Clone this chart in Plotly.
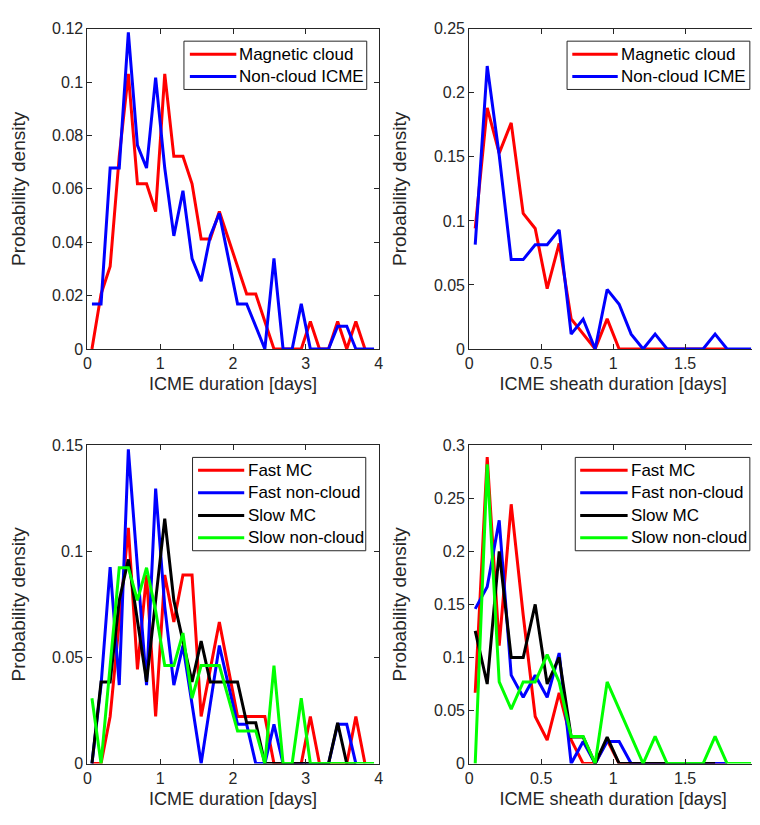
import plotly.graph_objects as go

# ---------------- data ----------------
# bin centres
dur_x = [(k + 0.5) / 8 for k in range(32)]      # 3-hour bins, days
sheath_x = [(k + 0.5) / 12 for k in range(24)]  # 2-hour bins, days

# panel 1: ICME duration
dur_mc = [0, 0.0206, 0.0309, 0.0722, 0.1031, 0.0619, 0.0619, 0.0515, 0.1031, 0.0722,
          0.0722, 0.0619, 0.0412, 0.0412, 0.0515, 0.0412, 0.0309, 0.0206, 0.0206, 0.0103,
          0, 0, 0, 0, 0.0103, 0, 0, 0.0103, 0, 0.0103, 0]
dur_ejecta = [0.0169, 0.0169, 0.0678, 0.0678, 0.1186, 0.0763, 0.0678, 0.1017, 0.0678, 0.0424,
              0.0593, 0.0339, 0.0254, 0.0424, 0.0508, 0.0339, 0.0169, 0.0169, 0.0085, 0,
              0.0339, 0, 0, 0.0169, 0, 0, 0, 0.0085, 0.0085, 0, 0, 0]

# panel 2: sheath duration
sh_mc = [0.0941, 0.1882, 0.1529, 0.1765, 0.1059, 0.0941, 0.0471, 0.0824, 0.0235, 0.0118,
         0, 0.0235, 0, 0, 0, 0, 0, 0, 0, 0, 0, 0]
sh_ejecta = [0.0814, 0.2209, 0.1512, 0.0698, 0.0698, 0.0814, 0.0814, 0.0930, 0.0116, 0.0233,
             0, 0.0465, 0.0349, 0.0116, 0, 0.0116, 0, 0, 0, 0, 0.0116, 0, 0, 0]

# panel 3: ICME duration, fast / slow
dur_fast_mc = [0, 0, 0.0222, 0.0667, 0.1111, 0.0444, 0.0889, 0.0222, 0.0889, 0.0667,
               0.0889, 0.0889, 0.0222, 0.0444, 0.0667, 0.0444, 0.0222, 0.0222, 0.0222, 0.0222,
               0, 0, 0, 0, 0.0222, 0, 0, 0, 0, 0.0222, 0]
dur_fast_ej = [0, 0.037, 0.0926, 0.037, 0.1481, 0.0926, 0.037, 0.1296, 0.0741, 0.037,
               0.0556, 0.028, 0, 0.028, 0.0556, 0.037, 0.0185, 0.0185, 0, 0,
               0.0185, 0, 0, 0, 0, 0, 0, 0.0185, 0.0185, 0]
dur_slow_mc = [0, 0.0385, 0.0385, 0.0769, 0.0962, 0.0673, 0.0385, 0.0769, 0.1154, 0.0769,
               0.0577, 0.0385, 0.0577, 0.0385, 0.0385, 0.0385, 0.0385, 0.0192, 0.0192, 0,
               0, 0, 0, 0, 0, 0, 0, 0.0192, 0, 0]
dur_slow_ej = [0.0308, 0, 0.0462, 0.0923, 0.0923, 0.0769, 0.0923, 0.072, 0.0462, 0.0462,
               0.0615, 0.0308, 0.0462, 0.0462, 0.0462, 0.0308, 0.0154, 0.0154, 0.0154, 0,
               0.0462, 0, 0, 0.0308, 0, 0, 0, 0, 0, 0, 0, 0]

# panel 4: sheath duration, fast / slow
sh_fast_mc = [0.0667, 0.2889, 0.1111, 0.2444, 0.14, 0.0444, 0.0222, 0.0667, 0.0222, 0,
              0, 0.0222, 0, 0, 0, 0, 0, 0, 0, 0, 0, 0]
sh_fast_ej = [0.1458, 0.1667, 0.2292, 0.0833, 0.0625, 0.0833, 0.0625, 0.1042, 0, 0.0208,
              0, 0.0208, 0.0208, 0, 0, 0, 0, 0, 0, 0, 0, 0]
sh_slow_mc = [0.125, 0.075, 0.2, 0.1, 0.1, 0.15, 0.075, 0.1, 0.025, 0.025,
              0, 0.025, 0, 0, 0, 0, 0, 0, 0, 0, 0]
sh_slow_ej = [0, 0.2821, 0.0769, 0.0513, 0.0769, 0.0769, 0.1026, 0.0769, 0.0256, 0.0256,
              0, 0.0769, 0.0513, 0.0256, 0, 0.0256, 0, 0, 0, 0, 0.0256, 0, 0, 0]

# tick labels
dur_ticks = [0, 1, 2, 3, 4]
dur_tick_text = ["0", "1", "2", "3", "4"]
sh_ticks = [0, 0.5, 1, 1.5, 2]
sh_tick_text = ["0", "0.5", "1", "1.5", "2"]
y1_ticks = [0, 0.02, 0.04, 0.06, 0.08, 0.1, 0.12]
y1_text = ["0", "0.02", "0.04", "0.06", "0.08", "0.1", "0.12"]
y2_ticks = [0, 0.05, 0.1, 0.15, 0.2, 0.25]
y2_text = ["0", "0.05", "0.1", "0.15", "0.2", "0.25"]
y3_ticks = [0, 0.05, 0.1, 0.15]
y3_text = ["0", "0.05", "0.1", "0.15"]
y4_ticks = [0, 0.05, 0.1, 0.15, 0.2, 0.25, 0.3]
y4_text = ["0", "0.05", "0.1", "0.15", "0.2", "0.25", "0.3"]

names_top = ["Magnetic cloud", "Non-cloud ICME"]
names_bottom = ["Fast MC", "Fast non-cloud", "Slow MC", "Slow non-cloud"]

RED, BLUE, BLACK, GREEN = "#FF0000", "#0000FF", "#000000", "#00FF00"
AX = "#262626"
FONT = "Liberation Sans, Arial, Helvetica, sans-serif"
LW = 3

W, H = 760, 825
fig = go.Figure()


def add(x, y, name, color, xa, ya):
    fig.add_trace(go.Scatter(x=x[:len(y)], y=y, mode="lines", name=name,
                             line=dict(color=color, width=LW),
                             xaxis=xa, yaxis=ya, showlegend=False))


add(dur_x, dur_mc, names_top[0], RED, "x", "y")
add(dur_x, dur_ejecta, names_top[1], BLUE, "x", "y")
add(sheath_x, sh_mc, names_top[0], RED, "x2", "y2")
add(sheath_x, sh_ejecta, names_top[1], BLUE, "x2", "y2")
add(dur_x, dur_fast_mc, names_bottom[0], RED, "x3", "y3")
add(dur_x, dur_fast_ej, names_bottom[1], BLUE, "x3", "y3")
add(dur_x, dur_slow_mc, names_bottom[2], BLACK, "x3", "y3")
add(dur_x, dur_slow_ej, names_bottom[3], GREEN, "x3", "y3")
add(sheath_x, sh_fast_mc, names_bottom[0], RED, "x4", "y4")
add(sheath_x, sh_fast_ej, names_bottom[1], BLUE, "x4", "y4")
add(sheath_x, sh_slow_mc, names_bottom[2], BLACK, "x4", "y4")
add(sheath_x, sh_slow_ej, names_bottom[3], GREEN, "x4", "y4")


def px(x):
    return x / W


def py(y):
    return 1 - y / H


def xaxis(dom, rng, tv, tt, title, anchor):
    return dict(domain=dom, range=rng, tickvals=tv, ticktext=tt, anchor=anchor,
                ticks="inside", ticklen=5, tickwidth=1, tickcolor=AX,
                showline=True, linecolor=AX, linewidth=1, mirror="ticks",
                showgrid=False, zeroline=False,
                tickfont=dict(family=FONT, size=16, color=AX),
                title=dict(text=title, font=dict(family=FONT, size=18, color=AX), standoff=6))


def yaxis(dom, rng, tv, tt, anchor):
    return dict(domain=dom, range=rng, tickvals=tv, ticktext=tt, anchor=anchor,
                ticks="inside", ticklen=5, tickwidth=1, tickcolor=AX,
                showline=True, linecolor=AX, linewidth=1, mirror="ticks",
                showgrid=False, zeroline=False,
                tickfont=dict(family=FONT, size=16, color=AX),
                title=dict(text="Probability density", font=dict(family=FONT, size=19, color=AX),
                           standoff=22))


shapes, annotations = [], []


def legend_box(x0, x1, y0, y1, line_x0, line_x1, text_x, rows, colors, names):
    shapes.append(dict(type="rect", xref="paper", yref="paper",
                       x0=px(x0), x1=px(x1), y0=py(y1), y1=py(y0),
                       line=dict(color=AX, width=1), fillcolor="white", layer="above"))
    for yy, c, n in zip(rows, colors, names):
        shapes.append(dict(type="line", xref="paper", yref="paper",
                           x0=px(line_x0), x1=px(line_x1), y0=py(yy), y1=py(yy),
                           line=dict(color=c, width=LW), layer="above"))
        annotations.append(dict(xref="paper", yref="paper", x=px(text_x), y=py(yy),
                                xanchor="left", yanchor="middle", showarrow=False, text=n,
                                font=dict(family=FONT, size=17, color="#000000")))


L1, R1 = 76.3, 371.0
L2, R2 = 462.7, 754.0
T1, B1 = 13.0, 340.0
T2, B2 = 438.3, 763.3

legend_box(174, 359, 25.7, 75, 180, 227, 228, [39, 61.7], [RED, BLUE], names_top)
legend_box(561.7, 746.7, 25.7, 75, 567, 613, 614.5, [39, 61.7], [RED, BLUE], names_top)
legend_box(182.7, 358, 450.7, 546, 188.3, 235, 236.5, [463.7, 486.7, 510, 532.7],
           [RED, BLUE, BLACK, GREEN], names_bottom)
legend_box(570, 746.7, 450.7, 546, 575, 623, 624, [463.7, 486.7, 510, 532.7],
           [RED, BLUE, BLACK, GREEN], names_bottom)

fig.update_layout(
    width=W, height=H, autosize=False,
    margin=dict(l=0, r=0, t=0, b=0),
    paper_bgcolor="white", plot_bgcolor="white",
    font=dict(family=FONT, color=AX),
    showlegend=False,
    xaxis=xaxis([px(L1), px(R1)], [0, 4], dur_ticks, dur_tick_text, "ICME duration [days]", "y"),
    yaxis=yaxis([py(B1), py(T1)], [0, 0.12], y1_ticks, y1_text, "x"),
    xaxis2=xaxis([px(L2), px(R2)], [0, 2], sh_ticks, sh_tick_text, "ICME sheath duration [days]", "y2"),
    yaxis2=yaxis([py(B1), py(T1)], [0, 0.25], y2_ticks, y2_text, "x2"),
    xaxis3=xaxis([px(L1), px(R1)], [0, 4], dur_ticks, dur_tick_text, "ICME duration [days]", "y3"),
    yaxis3=yaxis([py(B2), py(T2)], [0, 0.15], y3_ticks, y3_text, "x3"),
    xaxis4=xaxis([px(L2), px(R2)], [0, 2], sh_ticks, sh_tick_text, "ICME sheath duration [days]", "y4"),
    yaxis4=yaxis([py(B2), py(T2)], [0, 0.3], y4_ticks, y4_text, "x4"),
    shapes=shapes,
    annotations=annotations,
)

fig.write_html("out.html")
